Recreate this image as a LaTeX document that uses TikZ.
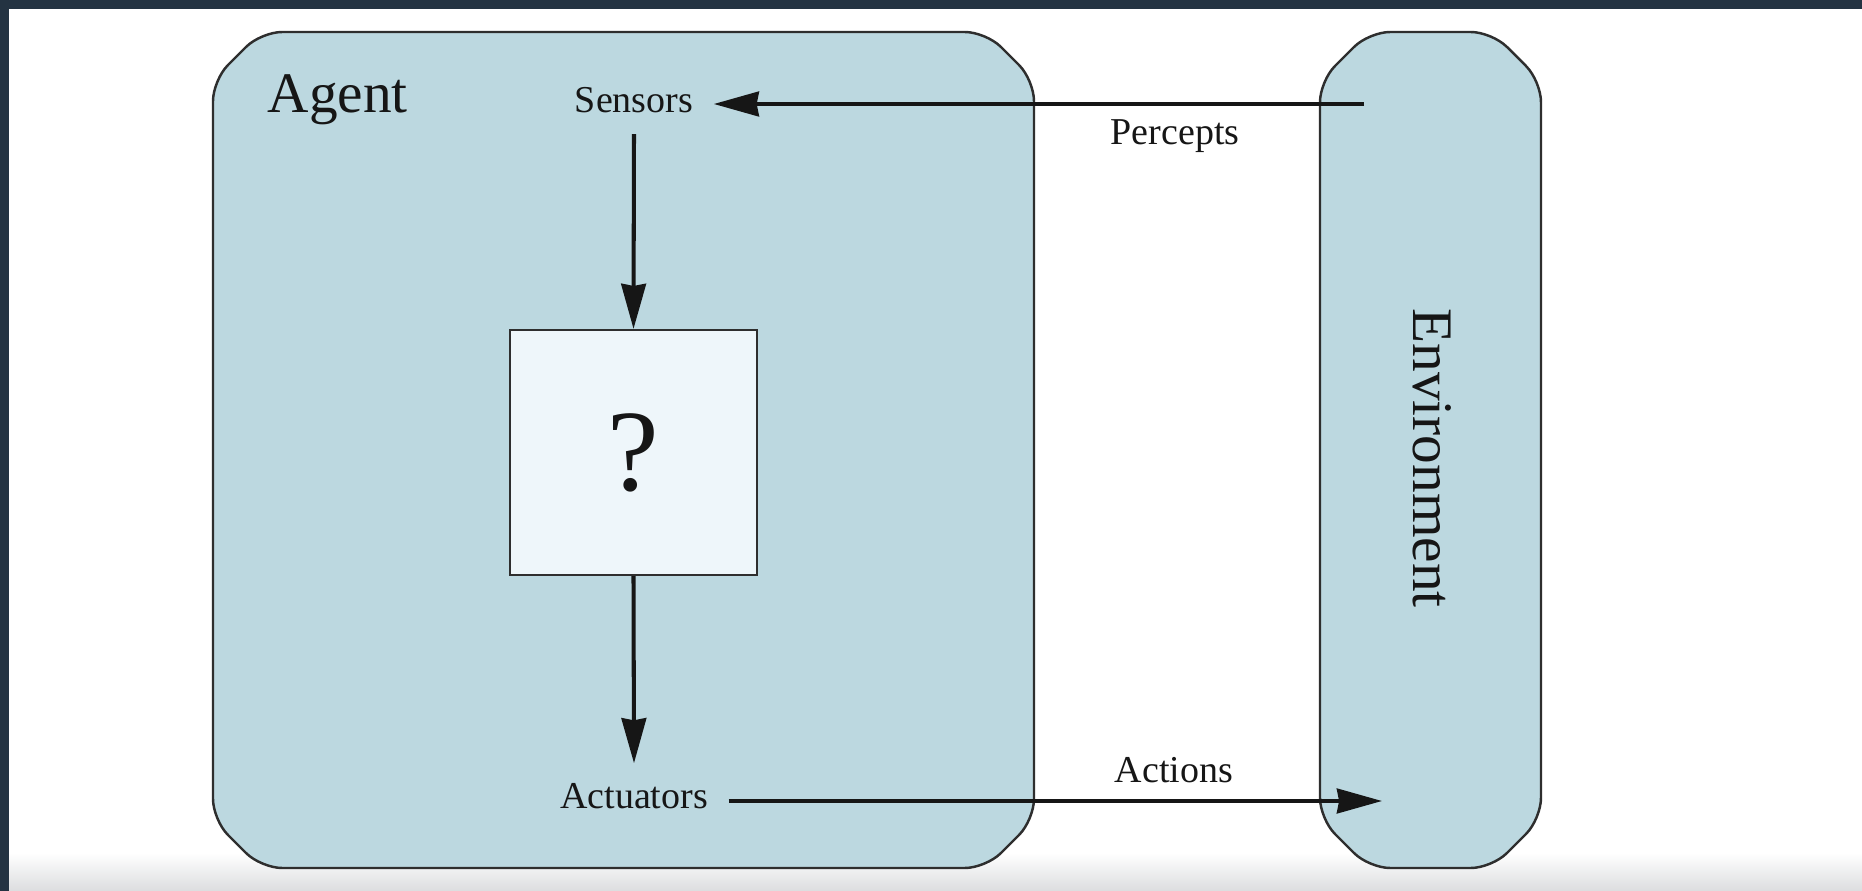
\documentclass[tikz,border=0pt]{standalone}
\usepackage{fontspec}
\setmainfont{Liberation Serif}
\usetikzlibrary{arrows.meta}
\definecolor{frame}{HTML}{243342}
\definecolor{boxblue}{HTML}{BCD8E0}
\definecolor{qfill}{HTML}{EEF6FA}
\definecolor{edge}{HTML}{2E2E2E}
\definecolor{ink}{HTML}{161616}
\definecolor{strip}{HTML}{DCDDDF}
\tikzset{
  container/.style={fill=boxblue, draw=edge, line width=0.7pt, rounded corners=6pt},
  qbox/.style={fill=qfill, draw=edge, line width=0.6pt, minimum width=2.47cm, minimum height=2.45cm, inner sep=0pt},
  small/.style={font=\fontsize{10.8}{13}\selectfont, text=ink, inner sep=0.2cm},
  big/.style={font=\fontsize{16.3}{19}\selectfont, text=ink, inner sep=0pt},
  arr/.style={draw=ink, line width=1.15pt, -{Stealth[length=12.8pt, width=7pt, inset=0.6pt]}},
}
\begin{document}
\begin{tikzpicture}[x=0.01cm, y=-0.01cm]
\useasboundingbox (0,0) rectangle (1862,891);
\fill[white] (0,0) rectangle (1862,891);
\shade[top color=white, bottom color=strip] (0,853) rectangle (1862,891);
\fill[frame] (0,0) rectangle (1862,9);
\fill[frame] (0,0) rectangle (9,891);
% Agent box
\draw[container] (261,32) -- (986,32) -- (1034,80) -- (1034,820) -- (986,868) -- (261,868) -- (213,820) -- (213,80) -- cycle;
% Environment box
\draw[container] (1369,32) -- (1492,32) -- (1541,81) -- (1541,819) -- (1492,868) -- (1369,868) -- (1320,819) -- (1320,81) -- cycle;
\node[big, anchor=base west] (agent) at (267,113) {Agent};
\node[big, rotate=-90, anchor=base] (env) at (1413,458) {Environment};
\node[small, anchor=base] (sensors) at (634,113) {Sensors};
\node[small, anchor=base] (actuators) at (634,809) {Actuators};
\node[qbox] (q) at (633.5,452.5) {\fontsize{33}{36}\selectfont\color{ink}?};
\node[small, inner sep=0pt, anchor=base] (percepts) at (1175,145) {Percepts};
\node[small, inner sep=0pt, anchor=base] (actions) at (1174,783) {Actions};
\coordinate (penv) at (1364,104);
\coordinate (aenv) at (1382,801);
\draw[arr] (penv) -- (penv -| sensors.east);
\draw[arr] (sensors.south) -- (q.north);
\draw[arr] (q.south) -- (actuators.north);
\draw[arr] (actuators.east |- aenv) -- (aenv);
\end{tikzpicture}
\end{document}
